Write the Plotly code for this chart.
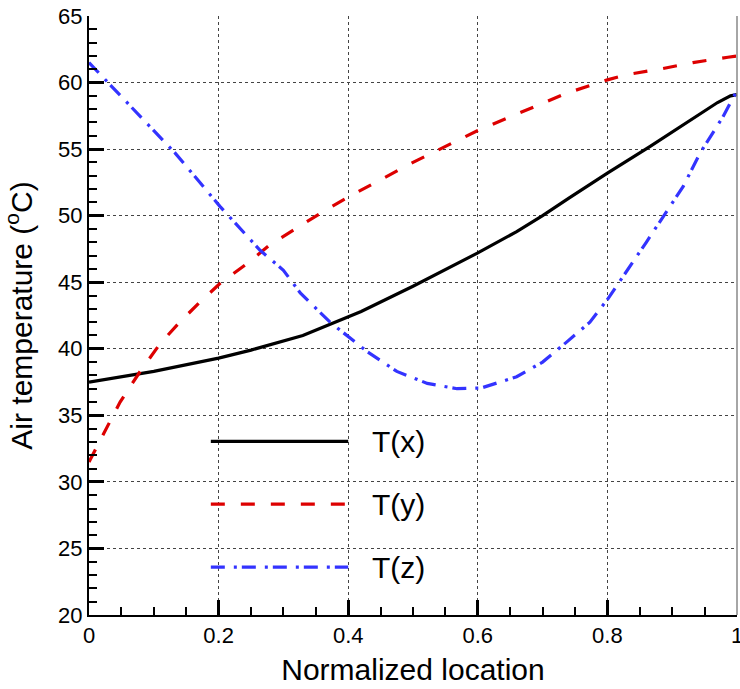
import plotly.graph_objects as go

# Data
tx_x = [0.0, 0.1, 0.2, 0.25, 0.33, 0.42, 0.5, 0.6, 0.66, 0.7, 0.74, 0.8, 0.866, 0.94, 0.97, 0.99, 1.0]
tx_y = [37.5, 38.3, 39.3, 39.9, 41.0, 42.8, 44.7, 47.2, 48.8, 50.0, 51.3, 53.2, 55.2, 57.5, 58.5, 59.0, 59.1]

ty_x = [0.0, 0.025, 0.048, 0.079, 0.11, 0.14, 0.171, 0.202, 0.244, 0.279, 0.321, 0.361, 0.4, 0.5, 0.6, 0.7, 0.737, 0.8, 0.83, 0.88, 0.932, 0.986, 1.0]
ty_y = [31.5, 33.9, 36.0, 38.3, 40.4, 42.0, 43.5, 44.9, 46.4, 47.8, 49.1, 50.3, 51.4, 54.0, 56.4, 58.4, 59.2, 60.2, 60.6, 61.0, 61.5, 61.9, 62.0]

tz_x = [0.0, 0.133, 0.202, 0.264, 0.30, 0.326, 0.372, 0.429, 0.475, 0.522, 0.568, 0.605, 0.66, 0.70, 0.737, 0.773, 0.80, 0.86, 0.917, 0.943, 0.978, 1.0]
tz_y = [61.5, 54.7, 50.7, 47.4, 45.9, 44.2, 42.0, 39.8, 38.3, 37.4, 37.0, 37.05, 37.9, 39.0, 40.5, 42.0, 43.7, 48.0, 52.2, 54.7, 57.4, 59.4]

series_names = ["T(x)", "T(y)", "T(z)"]
x_ticks = [0, 0.2, 0.4, 0.6, 0.8, 1]
x_labels = ["0", "0.2", "0.4", "0.6", "0.8", "1"]
y_ticks = [20, 25, 30, 35, 40, 45, 50, 55, 60, 65]

colors = ["#000000", "#dd0000", "#3333ff"]
dashes = ["solid", "14px,16px", "14px,9px,3px,5px"]

fig = go.Figure()
for xs, ys, name, c, d in zip([tx_x, ty_x, tz_x], [tx_y, ty_y, tz_y], series_names, colors, dashes):
    fig.add_trace(go.Scatter(x=xs, y=ys, mode="lines", name=name,
                             line=dict(color=c, width=3.2, dash=d), showlegend=False))

font = "Liberation Sans, Arial, sans-serif"
fig.update_layout(
    width=740, height=689,
    margin=dict(l=89, r=3, t=16, b=74),
    paper_bgcolor="white", plot_bgcolor="white",
    font=dict(family=font, size=22, color="black"),
)
fig.update_xaxes(
    range=[0, 1], tickvals=x_ticks, ticktext=x_labels, automargin=False,
    ticklabeloverflow="allow",
    ticks="inside", ticklen=15, tickwidth=3, tickcolor="black",
    showline=True, linecolor="black", linewidth=2,
    showgrid=True, gridcolor="#444444", gridwidth=1, griddash="3px,3px",
    zeroline=False,
    minor=dict(dtick=0.05, tick0=0, ticks="inside", ticklen=8, tickwidth=1.5, tickcolor="black", showgrid=False),
    title=dict(text="Normalized location", font=dict(size=30), standoff=12),
    tickfont=dict(size=22),
)
fig.update_yaxes(
    range=[20, 65], tickvals=y_ticks, automargin=False,
    ticklabeloverflow="allow",
    ticks="inside", ticklen=15, tickwidth=3, tickcolor="black",
    showline=True, linecolor="black", linewidth=2,
    showgrid=True, gridcolor="#444444", gridwidth=1, griddash="3px,3px",
    zeroline=False,
    minor=dict(dtick=1, tick0=20, ticks="inside", ticklen=8, tickwidth=1.5, tickcolor="black", showgrid=False),
    title=dict(text="Air temperature (<sup>o</sup>C)", font=dict(size=30), standoff=18),
    tickfont=dict(size=22),
)

# right border
fig.add_shape(type="line", xref="paper", yref="paper", x0=1, x1=1, y0=0, y1=1,
              line=dict(color="#888888", width=1.5))

# legend drawn inside the plot area
leg_y = [0.290, 0.185, 0.080]
for name, c, d, yy in zip(series_names, colors, dashes, leg_y):
    fig.add_shape(type="line", xref="paper", yref="paper", x0=0.188, x1=0.40, y0=yy, y1=yy,
                  line=dict(color=c, width=3.2, dash=d))
    fig.add_annotation(xref="paper", yref="paper", x=0.434, y=yy, text=name, showarrow=False,
                       xanchor="left", yanchor="middle", font=dict(size=30, family=font))

fig.write_html("out.html", config={"displayModeBar": False},
               post_script="document.body.style.margin='0';")
